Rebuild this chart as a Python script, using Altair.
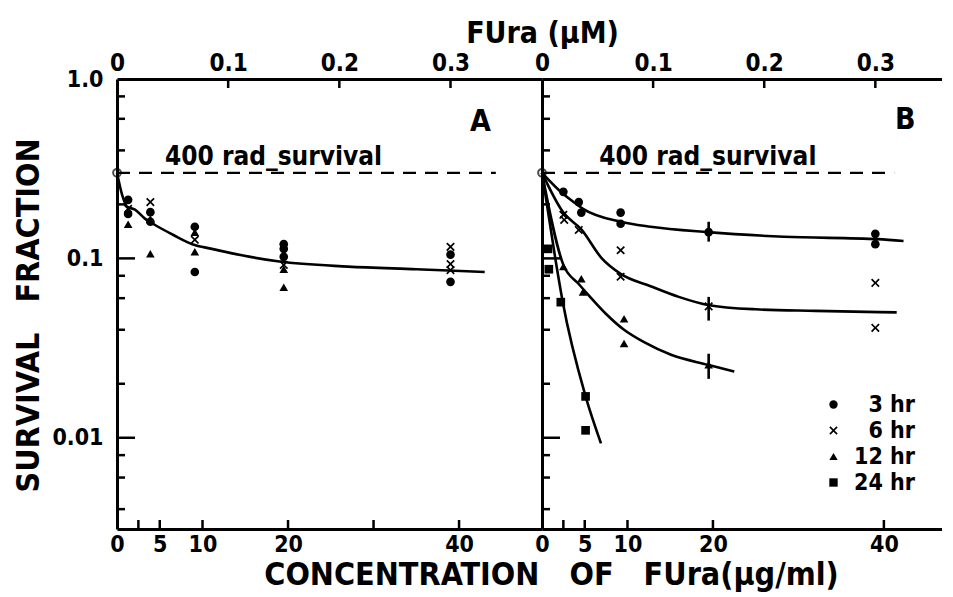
import altair as alt
import pandas as pd

FONT = "'DejaVu Sans Condensed', 'DejaVu Sans', sans-serif"

# ---------------- data ----------------
series = ["3 hr", "6 hr", "12 hr", "24 hr"]
x_max_a = 49.7
x_max_b = 46.8
y_min, y_max = 0.0031, 1.0
ugml_per_um = 130.0

control_x = [0.0]
control_y = [0.3]
rad400_y = 0.3
rad_end_a = 44.3
rad_end_b = 41.2

# Panel A measured points
a_x = [1.3, 1.3, 1.3, 1.3,
       3.9, 3.9, 3.9, 3.9, 3.9,
       9.1, 9.1, 9.1, 9.1, 9.1,
       19.5, 19.5, 19.5, 19.5, 19.5, 19.5,
       39, 39, 39, 39, 39]
a_y = [0.212, 0.189, 0.177, 0.155,
       0.206, 0.181, 0.166, 0.16, 0.106,
       0.15, 0.14, 0.127, 0.109, 0.084,
       0.12, 0.113, 0.102, 0.092, 0.087, 0.069,
       0.116, 0.105, 0.093, 0.086, 0.074]
a_s = ["3 hr", "6 hr", "3 hr", "12 hr",
       "6 hr", "3 hr", "12 hr", "3 hr", "12 hr",
       "3 hr", "12 hr", "6 hr", "12 hr", "3 hr",
       "3 hr", "3 hr", "3 hr", "6 hr", "12 hr", "12 hr",
       "6 hr", "3 hr", "6 hr", "6 hr", "3 hr"]

# Panel A fitted curve
a_cx = [0, 0.6, 1.2, 2.1, 3.3, 4.4, 6.6, 8.8, 11.1, 14.6, 19, 27, 35, 43]
a_cy = [0.3, 0.226, 0.194, 0.187, 0.166, 0.154, 0.135, 0.12, 0.113, 0.104,
        0.096, 0.09, 0.087, 0.084]

# Panel B measured points
b_x = [2.5, 4.3, 4.6, 9.2, 9.2, 19.5, 39, 39,
       2.5, 2.6, 4.3, 9.2, 9.2, 19.5, 39, 39,
       2.5, 4.6, 4.8, 9.6, 9.6, 19.5,
       0.7, 0.8, 2.2, 5.1, 5.1]
b_y = [0.235, 0.206, 0.18, 0.18, 0.156, 0.14, 0.137, 0.12,
       0.175, 0.164, 0.144, 0.111, 0.079, 0.054, 0.073, 0.041,
       0.09, 0.077, 0.065, 0.046, 0.0335, 0.0255,
       0.113, 0.087, 0.057, 0.017, 0.011]
b_s = (["3 hr"] * 8) + (["6 hr"] * 8) + (["12 hr"] * 6) + (["24 hr"] * 5)

# Panel B fitted curves
b3_x = [0, 2.6, 3.7, 4.8, 9.2, 12.7, 19.4, 28.3, 39.3, 42.3]
b3_y = [0.3, 0.226, 0.206, 0.189, 0.16, 0.15, 0.14, 0.132, 0.128, 0.125]
b6_x = [0, 2.5, 4.6, 7.0, 9.2, 12.7, 16, 19.4, 25, 32, 41.5]
b6_y = [0.3, 0.18, 0.145, 0.1, 0.082, 0.07, 0.061, 0.055, 0.052, 0.051, 0.05]
b12_x = [0, 2.5, 4.3, 5.5, 7.5, 9.6, 12, 15.1, 19.4, 22.5]
b12_y = [0.3, 0.092, 0.072, 0.062, 0.049, 0.04, 0.034, 0.029, 0.0255, 0.0234]
b24_x = [0, 1.6, 2.4, 5.1, 6.9]
b24_y = [0.3, 0.097, 0.058, 0.017, 0.0093]

# Panel B error bars at 20 ug/ml
bar_x = [19.5, 19.5, 19.5]
bar_lo = [0.124, 0.045, 0.0213]
bar_hi = [0.16, 0.061, 0.0294]

# axis ticks / labels
y_label_vals = [1.0, 0.1, 0.01]
y_major = [0.1, 0.01]
y_minor = [0.8, 0.6, 0.4, 0.2, 0.08, 0.06, 0.04, 0.02, 0.008, 0.006, 0.004]
a_bottom_ticks = [2.5, 5, 10, 20, 30, 40]
b_bottom_ticks = [2.5, 5, 10, 20, 40]
bottom_labels = [0, 5, 10, 20, 40]
top_ticks_um = [0.1, 0.2, 0.3]
top_labels_um = [0, 0.1, 0.2, 0.3]

# annotations
panel_a_label = ("A", 42.5, 0.575)
panel_b_label = ("B", 42.5, 0.59)
rad_text = "400 rad_survival"
rad_text_x_a = 18.3
rad_text_x_b = 19.4

# filled "x" polygon so it renders without a stroke
X_PATH = ("M-1,-0.72L-0.72,-1L0,-0.28L0.72,-1L1,-0.72L0.28,0L1,0.72L0.72,1"
          "L0,0.28L-0.72,1L-1,0.72L-0.28,0Z")
shape_range = ["circle", X_PATH, "triangle-up", "square"]

W_A, W_B, H = 425, 400, 450

# ---------------- helpers ----------------
yscale = alt.Scale(type="log", domain=[y_min, y_max], nice=False)
lbl_expr_top = "datum.value == 0 ? '0' : format(datum.value, '.1f')"


def make_panel(xmax, show_labels, pts_df, curve_df, bottom_ticks, letter,
               rad_x, rad_end, bars_df=None, legend=False):
    xscale = alt.Scale(domain=[0, xmax], nice=False, zero=True)
    tscale = alt.Scale(domain=[0, xmax / ugml_per_um], nice=False, zero=True)

    common_x = dict(values=bottom_labels, ticks=False, labelPadding=4,
                    labelFontSize=23, labelFont=FONT, labelFontWeight="bold",
                    labelFlush=False, labelOverlap=False, domainWidth=3,
                    grid=False, domainColor="black")
    common_t = dict(values=top_labels_um, ticks=False, labelPadding=4,
                    labelFontSize=24, labelFont=FONT, labelFontWeight="bold",
                    labelFlush=False, labelOverlap=False, domainWidth=3,
                    grid=False, domainColor="black", labelExpr=lbl_expr_top)
    if show_labels:
        y_axis = alt.Axis(orient="left", values=y_label_vals, ticks=False,
                          labelPadding=14, labelFontSize=23, labelFont=FONT,
                          labelFontWeight="bold", labelOverlap=False,
                          labelFlush=False,
                          labelExpr="datum.value >= 1 ? '1.0' : (datum.value >= 0.1 ? '0.1' : '0.01')",
                          domainWidth=3, domainColor="black", grid=False,
                          title="SURVIVAL\u00a0\u00a0\u00a0FRACTION",
                          titleFont=FONT, titleFontSize=32, titleFontWeight="bold",
                          titlePadding=6, titleColor="black",
                          titleY=236, titleAlign="center")
        x_axis = alt.Axis(orient="bottom", **common_x,
                          title="CONCENTRATION\u00a0\u00a0\u00a0OF\u00a0\u00a0\u00a0FUra(\u00b5g/ml)",
                          titleFont=FONT, titleFontSize=32, titleFontWeight="bold",
                          titleX=434, titleY=55, titleAlign="center",
                          titleBaseline="alphabetic", titleColor="black")
        t_axis = alt.Axis(orient="top", **common_t,
                          title="FUra (\u00b5M)", titleFont=FONT, titleFontSize=30,
                          titleFontWeight="bold", titleX=425, titleY=-37,
                          titleAlign="center", titleBaseline="alphabetic",
                          titleColor="black")
    else:
        y_axis = alt.Axis(orient="left", labels=False, ticks=False,
                          domainWidth=3, domainColor="black", grid=False,
                          title=None)
        x_axis = alt.Axis(orient="bottom", **common_x, title=None)
        t_axis = alt.Axis(orient="top", **common_t, title=None)

    y_enc = alt.Y("y:Q", scale=yscale, axis=y_axis)
    x_ax = alt.X("x:Q", scale=xscale, axis=x_axis)
    x_no = alt.X("x:Q", scale=xscale, axis=None)

    layers = []
    # fitted curves (carry the bottom axis)
    layers.append(alt.Chart(curve_df).mark_line(
        color="black", strokeWidth=2.6, interpolate="monotone").encode(
        x=x_ax, y=y_enc, detail="s:N"))

    # top axis with ticks in uM
    top_df = pd.DataFrame({"um": top_ticks_um})
    layers.append(alt.Chart(top_df).mark_rule(color="black", strokeWidth=2.5).encode(
        x=alt.X("um:Q", scale=tscale, axis=t_axis),
        y=alt.value(0), y2=alt.value(9)))

    # y ticks, drawn inward
    layers.append(alt.Chart(pd.DataFrame({"y": y_minor})).mark_rule(
        color="black", strokeWidth=2.5).encode(
        y=y_enc, x=alt.value(0), x2=alt.value(8)))
    layers.append(alt.Chart(pd.DataFrame({"y": y_major})).mark_rule(
        color="black", strokeWidth=2.5).encode(
        y=y_enc, x=alt.value(0), x2=alt.value(18)))

    # bottom ticks, drawn inward
    layers.append(alt.Chart(pd.DataFrame({"x": bottom_ticks})).mark_rule(
        color="black", strokeWidth=2.5).encode(
        x=x_no, y=alt.value(H), y2=alt.value(H - 9)))

    # 400 rad survival dashed line
    rad_df = pd.DataFrame({"x": [0.0], "x2": [rad_end], "y": [rad400_y]})
    layers.append(alt.Chart(rad_df).mark_rule(
        color="black", strokeWidth=2.3, strokeDash=[13, 9]).encode(
        x=x_no, x2="x2:Q", y=y_enc))
    rad_t = pd.DataFrame({"x": [rad_x], "y": [rad400_y], "t": [rad_text]})
    layers.append(alt.Chart(rad_t).mark_text(
        font=FONT, fontSize=26, fontWeight="bold", color="black",
        baseline="bottom", align="center", dy=-3).encode(
        x=x_no, y=y_enc, text="t:N"))

    # panel letter
    let_df = pd.DataFrame({"x": [letter[1]], "y": [letter[2]], "t": [letter[0]]})
    layers.append(alt.Chart(let_df).mark_text(
        font=FONT, fontSize=30, fontWeight="bold", color="black",
        baseline="middle", align="center").encode(
        x=x_no, y=y_enc, text="t:N"))

    # error bars
    if bars_df is not None:
        layers.append(alt.Chart(bars_df).mark_rule(
            color="black", strokeWidth=2.6).encode(
            x=x_no, y=y_enc, y2="y2:Q"))

    # control open circle
    ctl = pd.DataFrame({"x": control_x, "y": control_y})
    layers.append(alt.Chart(ctl).mark_point(
        shape="circle", size=60, filled=False, color="black",
        strokeWidth=2).encode(x=x_no, y=y_enc))

    # data points
    leg = alt.Legend(title=None, orient="none", legendX=705, legendY=314,
                     labelFont=FONT, labelFontSize=23, labelFontWeight="bold",
                     labelColor="black", labelAlign="right", labelOffset=70,
                     symbolSize=70, symbolFillColor="black",
                     symbolStrokeColor="black", symbolStrokeWidth=0,
                     rowPadding=2, padding=0) if legend else None
    shape_enc = alt.Shape("s:N", scale=alt.Scale(domain=series, range=shape_range),
                          legend=leg)
    layers.append(alt.Chart(pts_df).mark_point(
        filled=True, fill="black", strokeWidth=0,
        size=75, opacity=1).encode(x=x_no, y=y_enc, shape=shape_enc))

    return alt.layer(*layers).resolve_scale(x="independent").properties(
        width=W_A if show_labels else W_B, height=H)


a_pts = pd.DataFrame({"x": a_x, "y": a_y, "s": a_s})
a_curve = pd.DataFrame({"x": a_cx, "y": a_cy, "s": ["fit"] * len(a_cx)})
b_pts = pd.DataFrame({"x": b_x, "y": b_y, "s": b_s})
b_curve = pd.concat([
    pd.DataFrame({"x": b3_x, "y": b3_y, "s": "3 hr"}),
    pd.DataFrame({"x": b6_x, "y": b6_y, "s": "6 hr"}),
    pd.DataFrame({"x": b12_x, "y": b12_y, "s": "12 hr"}),
    pd.DataFrame({"x": b24_x, "y": b24_y, "s": "24 hr"}),
], ignore_index=True)
b_bars = pd.DataFrame({"x": bar_x, "y": bar_lo, "y2": bar_hi})

panel_a = make_panel(x_max_a, True, a_pts, a_curve, a_bottom_ticks,
                     panel_a_label, rad_text_x_a, rad_end_a, legend=True)
panel_b = make_panel(x_max_b, False, b_pts, b_curve, b_bottom_ticks,
                     panel_b_label, rad_text_x_b, rad_end_b, bars_df=b_bars,
                     legend=True)

chart = alt.hconcat(panel_a, panel_b, spacing=0, bounds="flush").properties(
    padding={"left": 4, "top": 10, "right": 0, "bottom": 6},
    background="white",
).configure_view(stroke=None).configure_axis(labelColor="black")

chart.save("out.html", embed_options={"renderer": "svg", "actions": False})
